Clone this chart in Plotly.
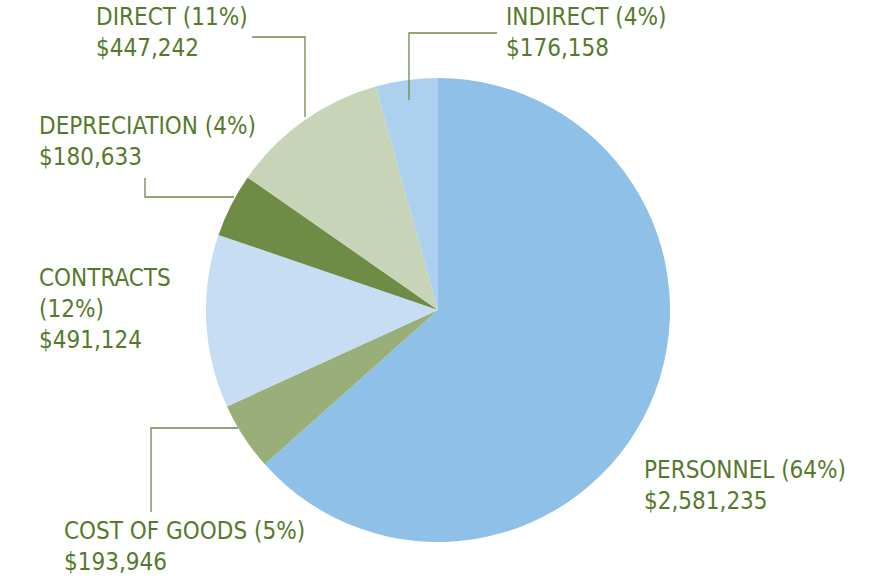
import plotly.graph_objects as go

W, H = 894, 584

labels = ["PERSONNEL", "COST OF GOODS", "CONTRACTS", "DEPRECIATION", "DIRECT", "INDIRECT"]
values = [2581235, 193946, 491124, 180633, 447242, 176158]
pct_labels = ["64%", "5%", "12%", "4%", "11%", "4%"]
colors = ["#8fc1e8", "#9aae7a", "#c6ddf3", "#6f8c47", "#c8d4b8", "#acd0ee"]

TEXT_COLOR = "#557a2b"
LINE_COLOR = "#6f8c47"
FONT = "DejaVu Sans Condensed, Liberation Sans Narrow, Liberation Sans, sans-serif"

cx, cy, r = 438, 310, 232


def px(x):
    return x / W


def py(y):
    return 1 - y / H


fig = go.Figure(go.Pie(
    labels=labels,
    values=values,
    marker=dict(colors=colors, line=dict(width=0)),
    sort=False,
    direction="clockwise",
    rotation=0,
    textinfo="none",
    hoverinfo="label+value+percent",
    domain=dict(x=[px(cx - r), px(cx + r)], y=[py(cy + r), py(cy - r)]),
    showlegend=False,
))

label_pos = {
    "PERSONNEL": (643, 455, False),
    "COST OF GOODS": (63, 516, False),
    "CONTRACTS": (38, 263, True),
    "DEPRECIATION": (38, 111, False),
    "DIRECT": (95, 2, False),
    "INDIRECT": (505, 2, False),
}

annotations = []
for name, val, pct in zip(labels, values, pct_labels):
    x, y, split = label_pos[name]
    sep = "<br>" if split else " "
    text = f"{name}{sep}({pct})<br>${val:,}"
    annotations.append(dict(
        x=px(x), y=py(y), xref="paper", yref="paper",
        xanchor="left", yanchor="top", align="left",
        text=text, showarrow=False, borderpad=0,
        font=dict(family=FONT, size=24, color=TEXT_COLOR),
    ))

leaders = [
    [(252, 37), (305, 37), (305, 117)],      # DIRECT
    [(409, 100), (409, 33), (497, 33)],      # INDIRECT
    [(145, 178), (145, 197), (234, 197)],    # DEPRECIATION
    [(151, 512), (151, 428), (238, 428)],    # COST OF GOODS
]
shapes = []
for pts in leaders:
    path = "M " + " L ".join(f"{px(a)},{py(b)}" for a, b in pts)
    shapes.append(dict(type="path", path=path, xref="paper", yref="paper",
                       line=dict(color=LINE_COLOR, width=1.3)))

fig.update_layout(
    width=W, height=H,
    margin=dict(l=0, r=0, t=0, b=0),
    paper_bgcolor="white", plot_bgcolor="white",
    annotations=annotations, shapes=shapes,
)

fig.write_html("out.html", config={"displayModeBar": False},
               post_script="document.body.style.margin='0px';")
